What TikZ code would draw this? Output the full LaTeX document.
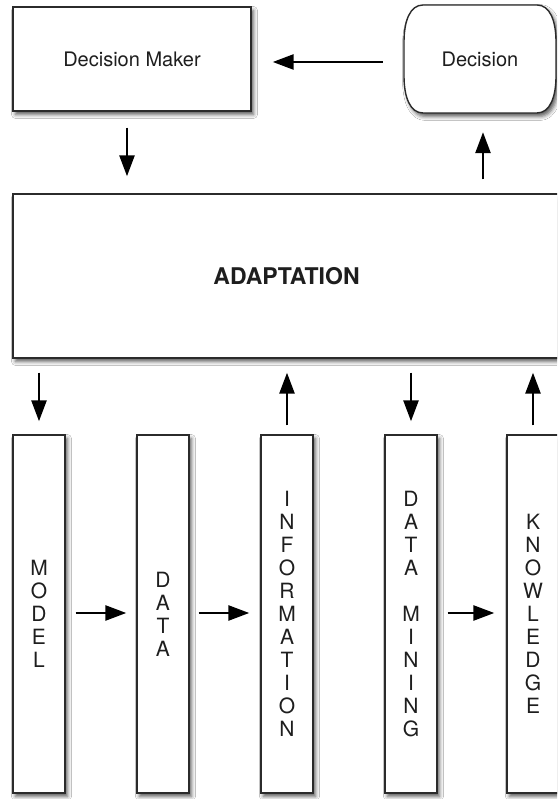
\documentclass[tikz,border=0pt]{standalone}
\usepackage{fontspec}
\setmainfont{TeX Gyre Heros}
\usetikzlibrary{arrows.meta,shadows.blur}

\definecolor{boxline}{HTML}{2B2B2B}
\definecolor{ink}{HTML}{1E1E1E}

\tikzset{
  outline/.style={draw=boxline, line width=1.4pt, fill=white,
    blur shadow={shadow xshift=2.5pt, shadow yshift=-3.5pt,
                 shadow blur radius=4pt, shadow opacity=65}},
  box/.style={outline, inner sep=0pt, text=ink},
  topbox/.style={box, font=\fontsize{20}{24}\selectfont},
  column/.style={box, minimum width=52pt, minimum height=358pt, align=center,
    font=\fontsize{21}{23}\selectfont},
  arr/.style={line width=2.6pt, draw=black,
    -{Triangle[length=21pt,width=15pt]}},
}

\begin{document}
\begin{tikzpicture}[x=1pt,y=1pt]
  \clip (0,0) rectangle (557,799);
  \fill[white] (0,0) rectangle (557,799);

  % upper row
  \node[topbox, minimum width=238pt, minimum height=104pt] (dm) at (132,740) {Decision Maker};

  % decision terminal with bowed sides
  \path[outline] (423,794) -- (537,794)
      .. controls (550,794) and (556,778) .. (556,757) -- (556,723)
      .. controls (556,702) and (550,686) .. (537,686) -- (423,686)
      .. controls (410,686) and (404,702) .. (404,723) -- (404,757)
      .. controls (404,778) and (410,794) .. (423,794) -- cycle;
  \node[inner sep=0pt, minimum width=152pt, minimum height=108pt, text=ink,
        font=\fontsize{20}{24}\selectfont] (dec) at (480,740) {Decision};

  % adaptation layer
  \node[box, minimum width=547pt, minimum height=164pt,
        font=\fontsize{23}{27}\selectfont\bfseries] (adapt) at (286.5,523) {ADAPTATION};

  % lower columns
  \node[column] (model) at (39,185)  {M\\O\\D\\E\\L};
  \node[column] (data)  at (163,185) {D\\A\\T\\A};
  \node[column] (info)  at (287,185) {I\\N\\F\\O\\R\\M\\A\\T\\I\\O\\N};
  \node[column] (dmin)  at (411,185) {D\\A\\T\\A\\~\\M\\I\\N\\I\\N\\G};
  \node[column] (know)  at (533,185) {K\\N\\O\\W\\L\\E\\D\\G\\E};

  % upper loop
  \draw[arr, shorten <=21pt, shorten >=21pt] ([yshift=-3pt]dec.west) -- ([yshift=-3pt]dm.east);
  \draw[arr, shorten <=16pt, shorten >=17pt] ([xshift=-5pt]dm.south) -- ([xshift=-5pt]dm.south |- adapt.north);
  \draw[arr, shorten <=14pt, shorten >=19pt] ([xshift=3pt]dec.south |- adapt.north) -- ([xshift=3pt]dec.south);

  % links between the adaptation layer and the columns
  \draw[arr, shorten <=14pt, shorten >=13pt] (model.north |- adapt.south) -- (model.north);
  \draw[arr, shorten <=9pt,  shorten >=14pt] (info.north) -- (info.north |- adapt.south);
  \draw[arr, shorten <=14pt, shorten >=13pt] (dmin.north |- adapt.south) -- (dmin.north);
  \draw[arr, shorten <=9pt,  shorten >=14pt] (know.north) -- (know.north |- adapt.south);

  % chain along the columns
  \draw[arr, shorten <=10pt, shorten >=10pt] ([yshift=1pt]model.east) -- ([yshift=1pt]data.west);
  \draw[arr, shorten <=9pt,  shorten >=11pt] ([yshift=1pt]data.east) -- ([yshift=1pt]info.west);
  \draw[arr, shorten <=10pt, shorten >=12pt] ([yshift=1pt]dmin.east) -- ([yshift=1pt]know.west);
\end{tikzpicture}
\end{document}
